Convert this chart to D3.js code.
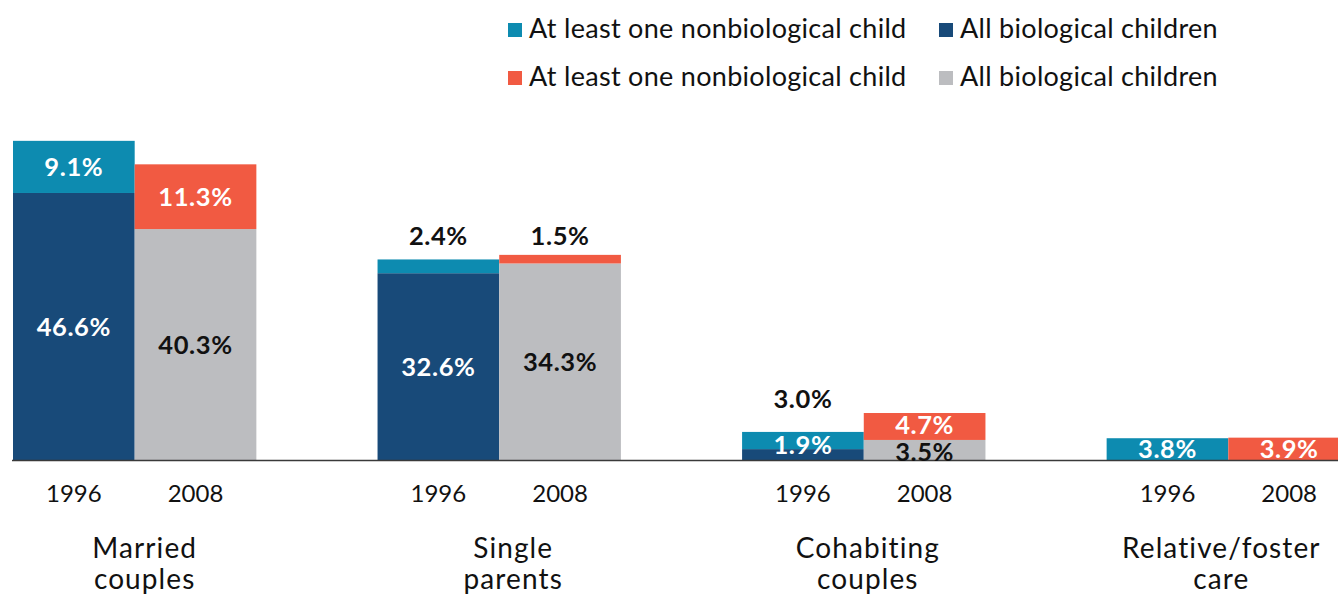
<!DOCTYPE html>
<html>
<head>
<meta charset="utf-8">
<script src="https://cdn.jsdelivr.net/npm/d3@7"></script>
<style>
  html, body { margin: 0; padding: 0; background: #fff; }
  svg { display: block; font-family: Lato, "Open Sans", sans-serif; }
</style>
</head>
<body>
<svg id="chart" width="1338" height="596"></svg>
<script>
// ---- data ----
const categories = ["Married couples", "Single parents", "Cohabiting couples", "Relative/foster care"];
const categoryLines = [["Married", "couples"], ["Single", "parents"], ["Cohabiting", "couples"], ["Relative/foster", "care"]];
const years = ["1996", "2008"];
const biological1996 = [46.6, 32.6, 1.9, 0];
const nonbiological1996 = [9.1, 2.4, 3.0, 3.8];
const biological2008 = [40.3, 34.3, 3.5, 0];
const nonbiological2008 = [11.3, 1.5, 4.7, 3.9];
const legendLabels = ["At least one nonbiological child", "All biological children"];

// ---- layout ----
const W = 1338, H = 596;
const colors = {
  "1996": { nonbio: "#0d8bb0", bio: "#184a79" },
  "2008": { nonbio: "#f15a42", bio: "#bcbdc0" }
};
const svg = d3.select("#chart");

const x0 = d3.scaleBand().domain(categories).range([13, 1350]).paddingInner(121 / 364).paddingOuter(0);
const x1 = d3.scaleBand().domain(years).range([0, x0.bandwidth()]).padding(0);
const y = d3.scaleLinear().domain([0, 80]).range([460, 1.6]);

const rows = [];
categories.forEach((c, i) => {
  rows.push({ cat: c, i, year: "1996", bio: biological1996[i], nonbio: nonbiological1996[i] });
  rows.push({ cat: c, i, year: "2008", bio: biological2008[i], nonbio: nonbiological2008[i] });
});

const segs = [];
rows.forEach(r => {
  if (r.bio > 0) segs.push({ ...r, part: "bio", v: r.bio, y0: 0, y1: r.bio });
  segs.push({ ...r, part: "nonbio", v: r.nonbio, y0: r.bio, y1: r.bio + r.nonbio });
});

const g = svg.append("g");
g.selectAll("rect.seg").data(segs).join("rect")
  .attr("class", "seg")
  .attr("x", d => x0(d.cat) + x1(d.year))
  .attr("width", x1.bandwidth())
  .attr("y", d => y(d.y1))
  .attr("height", d => y(d.y0) - y(d.y1))
  .attr("fill", d => colors[d.year][d.part]);

// baseline
svg.append("line")
  .attr("x1", 12).attr("x2", W)
  .attr("y1", y(0) + 0.5).attr("y2", y(0) + 0.5)
  .attr("stroke", "#3a3a3a").attr("stroke-width", 1.5);

// value labels
function labelPlacement(d) {
  const top = y(d.y1), bot = y(d.y0), h = bot - top;
  const cx = x0(d.cat) + x1(d.year) + x1.bandwidth() / 2;
  if (d.part === "nonbio" && h < 18 && d.v > 0) {
    // small top segment: label above the bar
    return { cx, cy: d.cat === "Single parents" ? y(35.4) - 21 : top - 33, fill: "#111" };
  }
  if (d.part === "bio" && h < 15) {
    return { cx, cy: bot - 15, fill: "#fff" };
  }
  const fill = (d.year === "2008" && d.part === "bio") ? "#111" : "#fff";
  let cy = (top + bot) / 2;
  if (h < 30 && d.part === "nonbio" && d.bio > 0) cy -= 2;
  if (d.year === "2008" && d.part === "bio" && h < 25) cy += 2;
  return { cx, cy, fill };
}
svg.append("g").selectAll("text").data(segs).join("text")
  .each(function (d) {
    const p = labelPlacement(d);
    d3.select(this)
      .attr("x", p.cx).attr("y", p.cy)
      .attr("dy", "0.36em")
      .attr("text-anchor", "middle")
      .attr("fill", p.fill)
      .attr("font-size", 25.5)
      .attr("letter-spacing", 0.6)
      .attr("font-weight", 700)
      .text(d3.format(".1f")(d.v) + "%");
  });

// year labels
svg.append("g").selectAll("text").data(rows).join("text")
  .attr("x", d => x0(d.cat) + x1(d.year) + x1.bandwidth() / 2)
  .attr("y", 502)
  .attr("text-anchor", "middle")
  .attr("font-size", 24)
  .attr("fill", "#111")
  .text(d => d.year);

// category labels
const labelNudge = [10, 14, 4, -7];
const catG = svg.append("g").selectAll("text").data(categories).join("text")
  .attr("text-anchor", "middle")
  .attr("font-size", 28)
  .attr("letter-spacing", 1.1)
  .attr("fill", "#111");
catG.each(function (c, i) {
  const cx = x0(c) + x0.bandwidth() / 2 + labelNudge[i];
  d3.select(this).selectAll("tspan").data(categoryLines[i]).join("tspan")
    .attr("x", cx)
    .attr("y", (d, k) => 558 + k * 31)
    .text(d => d);
});

// legend
const legendX = [508, 939];
years.forEach((yr, r) => {
  const parts = ["nonbio", "bio"];
  parts.forEach((p, k) => {
    const lg = svg.append("g").attr("transform", `translate(${legendX[k]},${23 + r * 48})`);
    lg.append("rect").attr("width", 14).attr("height", 14).attr("fill", colors[yr][p]);
    lg.append("text").attr("x", 21).attr("y", 15)
      .attr("font-size", 27).attr("letter-spacing", 0.3).attr("fill", "#111")
      .text(legendLabels[k]);
  });
});
</script>
</body>
</html>
